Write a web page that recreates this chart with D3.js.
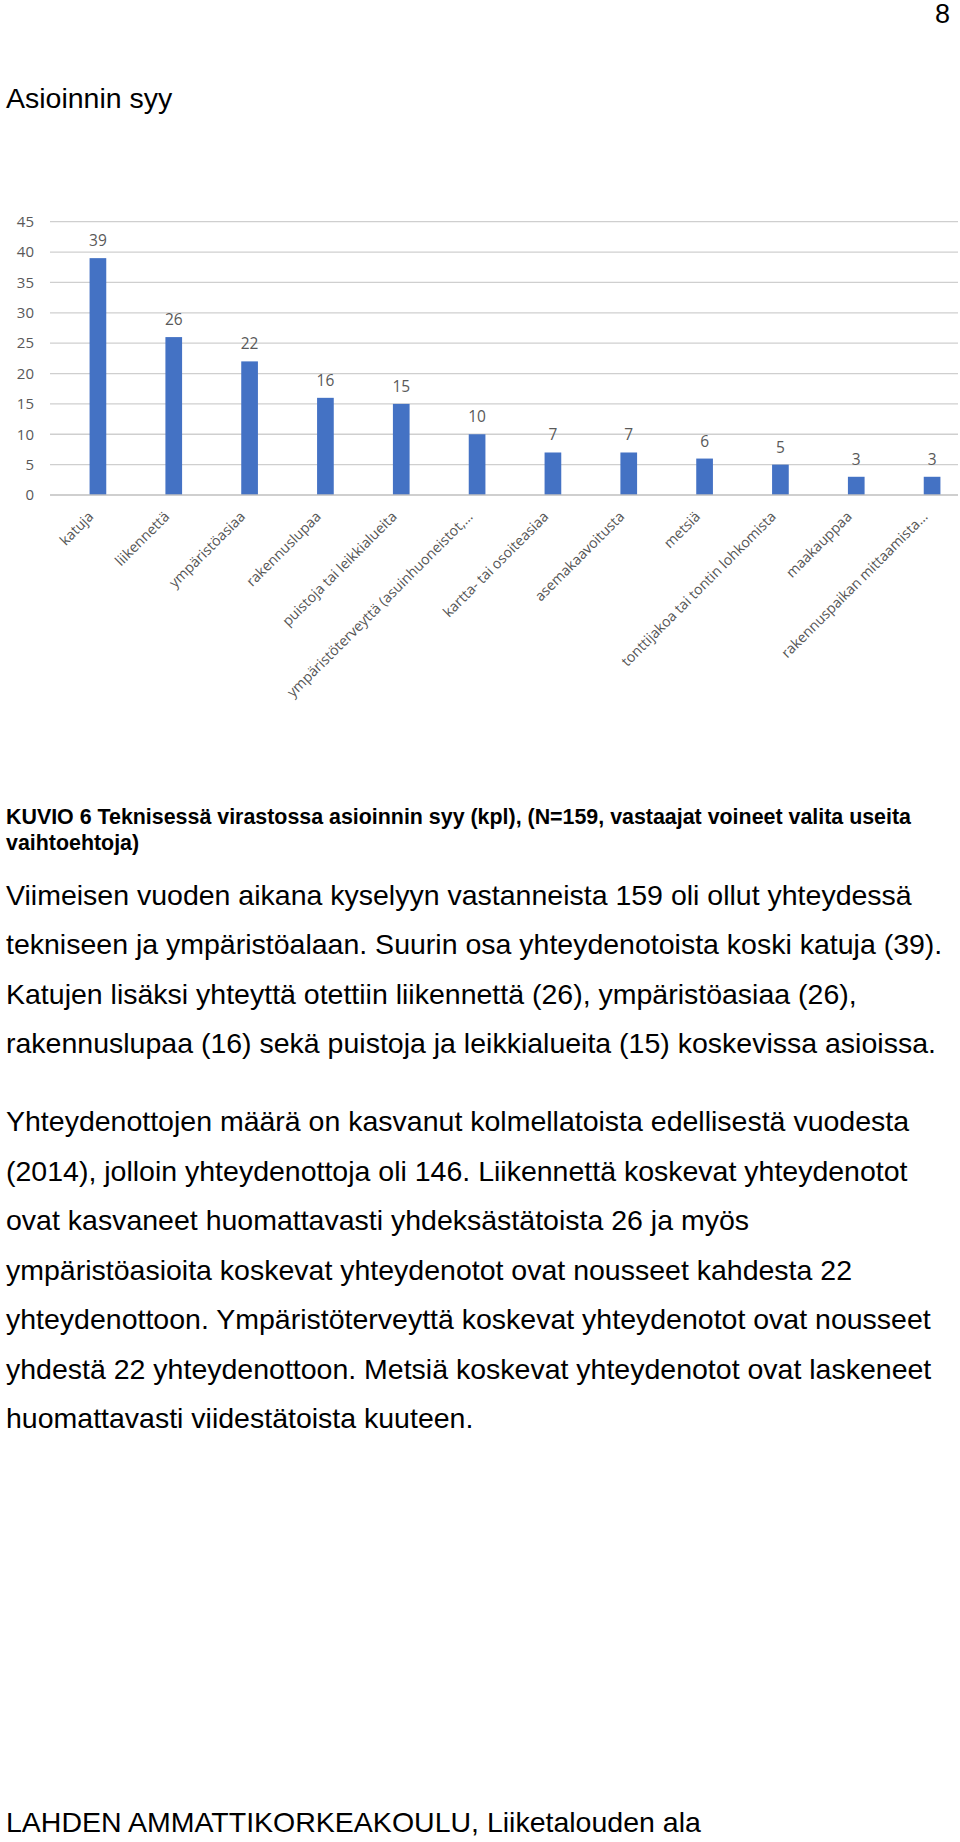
<!DOCTYPE html>
<html>
<head>
<meta charset="utf-8">
<script src="https://cdn.jsdelivr.net/npm/d3@7"></script>
<style>
  html, body { margin: 0; padding: 0; background: #fff; }
  svg { display: block; }
</style>
</head>
<body>
<svg id="page" width="960" height="1842"></svg>
<script>
// ---- data ----
const categories = [
  "katuja",
  "liikennettä",
  "ympäristöasiaa",
  "rakennuslupaa",
  "puistoja tai leikkialueita",
  "ympäristöterveyttä (asuinhuoneistot,…",
  "kartta- tai osoiteasiaa",
  "asemakaavoitusta",
  "metsiä",
  "tonttijakoa tai tontin lohkomista",
  "maakauppaa",
  "rakennuspaikan mittaamista…"
];
const values = [39, 26, 22, 16, 15, 10, 7, 7, 6, 5, 3, 3];
const yTicks = [0, 5, 10, 15, 20, 25, 30, 35, 40, 45];

const pageNumber = "8";
const heading = "Asioinnin syy";
const captionLines = [
  "KUVIO 6 Teknisessä virastossa asioinnin syy (kpl), (N=159, vastaajat voineet valita useita",
  "vaihtoehtoja)"
];
const para1 = [
  "Viimeisen vuoden aikana kyselyyn vastanneista 159 oli ollut yhteydessä",
  "tekniseen ja ympäristöalaan. Suurin osa yhteydenotoista koski katuja (39).",
  "Katujen lisäksi yhteyttä otettiin liikennettä (26), ympäristöasiaa (26),",
  "rakennuslupaa (16) sekä puistoja ja leikkialueita (15) koskevissa asioissa."
];
const para2 = [
  "Yhteydenottojen määrä on kasvanut kolmellatoista edellisestä vuodesta",
  "(2014), jolloin yhteydenottoja oli 146. Liikennettä koskevat yhteydenotot",
  "ovat kasvaneet huomattavasti yhdeksästätoista 26 ja myös",
  "ympäristöasioita koskevat yhteydenotot ovat nousseet kahdesta 22",
  "yhteydenottoon. Ympäristöterveyttä koskevat yhteydenotot ovat nousseet",
  "yhdestä 22 yhteydenottoon. Metsiä koskevat yhteydenotot ovat laskeneet",
  "huomattavasti viidestätoista kuuteen."
];
const footer = "LAHDEN AMMATTIKORKEAKOULU, Liiketalouden ala";

// ---- page ----
const svg = d3.select("#page");
const docFont = "'Liberation Sans', Arial, sans-serif";
const chartFont = "'Open Sans', 'Noto Sans', sans-serif";

svg.append("text").attr("x", 950).attr("y", 23)
  .attr("text-anchor", "end").attr("font-family", docFont).attr("font-size", 27)
  .attr("fill", "#000").text(pageNumber);

svg.append("text").attr("x", 6).attr("y", 108)
  .attr("font-family", docFont).attr("font-size", 28.5)
  .attr("fill", "#000").text(heading);

// ---- chart ----
const y = d3.scaleLinear().domain([0, 45]).range([495, 221.7]);
const x = d3.scaleBand().domain(categories).range([60, 970]).paddingInner(0.78).paddingOuter(0.39);

const chart = svg.append("g").attr("font-family", chartFont);

// gridlines
chart.append("g").selectAll("line").data(yTicks.filter(d => d > 0)).join("line")
  .attr("x1", 50).attr("x2", 958)
  .attr("y1", d => y(d)).attr("y2", d => y(d))
  .attr("stroke", "#cfcfcf").attr("stroke-width", 1.3);

// y axis tick labels via d3 axis
const yAxis = d3.axisLeft(y).tickValues(yTicks).tickSize(0).tickPadding(0);
const yg = chart.append("g").attr("transform", "translate(34,0)").call(yAxis);
yg.select(".domain").remove();
yg.selectAll("text").attr("font-size", 15).attr("fill", "#595959").attr("font-family", chartFont);

// bars
chart.append("g").selectAll("rect").data(values).join("rect")
  .attr("x", (d, i) => x(categories[i]))
  .attr("y", d => y(d))
  .attr("width", x.bandwidth())
  .attr("height", d => y(0) - y(d))
  .attr("fill", "#4472c4");

// baseline axis
chart.append("line").attr("x1", 50).attr("x2", 958)
  .attr("y1", y(0)).attr("y2", y(0))
  .attr("stroke", "#bfbfbf").attr("stroke-width", 1.3);

// value labels
chart.append("g").selectAll("text").data(values).join("text")
  .attr("x", (d, i) => x(categories[i]) + x.bandwidth() / 2)
  .attr("y", d => y(d) - 12)
  .attr("text-anchor", "middle")
  .attr("font-size", 15.5).attr("fill", "#595959")
  .text(d => d);

// category labels, rotated
chart.append("g").selectAll("text").data(categories).join("text")
  .attr("transform", d => `translate(${x(d) + x.bandwidth() / 2 - 7},514) rotate(-45)`)
  .attr("text-anchor", "end")
  .attr("dy", "0.35em")
  .attr("font-size", 14.2).attr("fill", "#555555")
  .text(d => d);

// ---- caption & body text ----
svg.append("g").selectAll("text").data(captionLines).join("text")
  .attr("x", 6).attr("y", (d, i) => 824 + i * 26)
  .attr("font-family", docFont).attr("font-weight", "bold").attr("font-size", 21.4)
  .attr("fill", "#000").text(d => d);

svg.append("g").selectAll("text").data(para1).join("text")
  .attr("x", 6).attr("y", (d, i) => 905 + i * 49.3)
  .attr("font-family", docFont).attr("font-size", 28.5)
  .attr("fill", "#000").text(d => d);

svg.append("g").selectAll("text").data(para2).join("text")
  .attr("x", 6).attr("y", (d, i) => 1131 + i * 49.5)
  .attr("font-family", docFont).attr("font-size", 28.5)
  .attr("fill", "#000").text(d => d);

svg.append("text").attr("x", 6).attr("y", 1832)
  .attr("font-family", docFont).attr("font-size", 28.5)
  .attr("fill", "#000").text(footer);
</script>
</body>
</html>
